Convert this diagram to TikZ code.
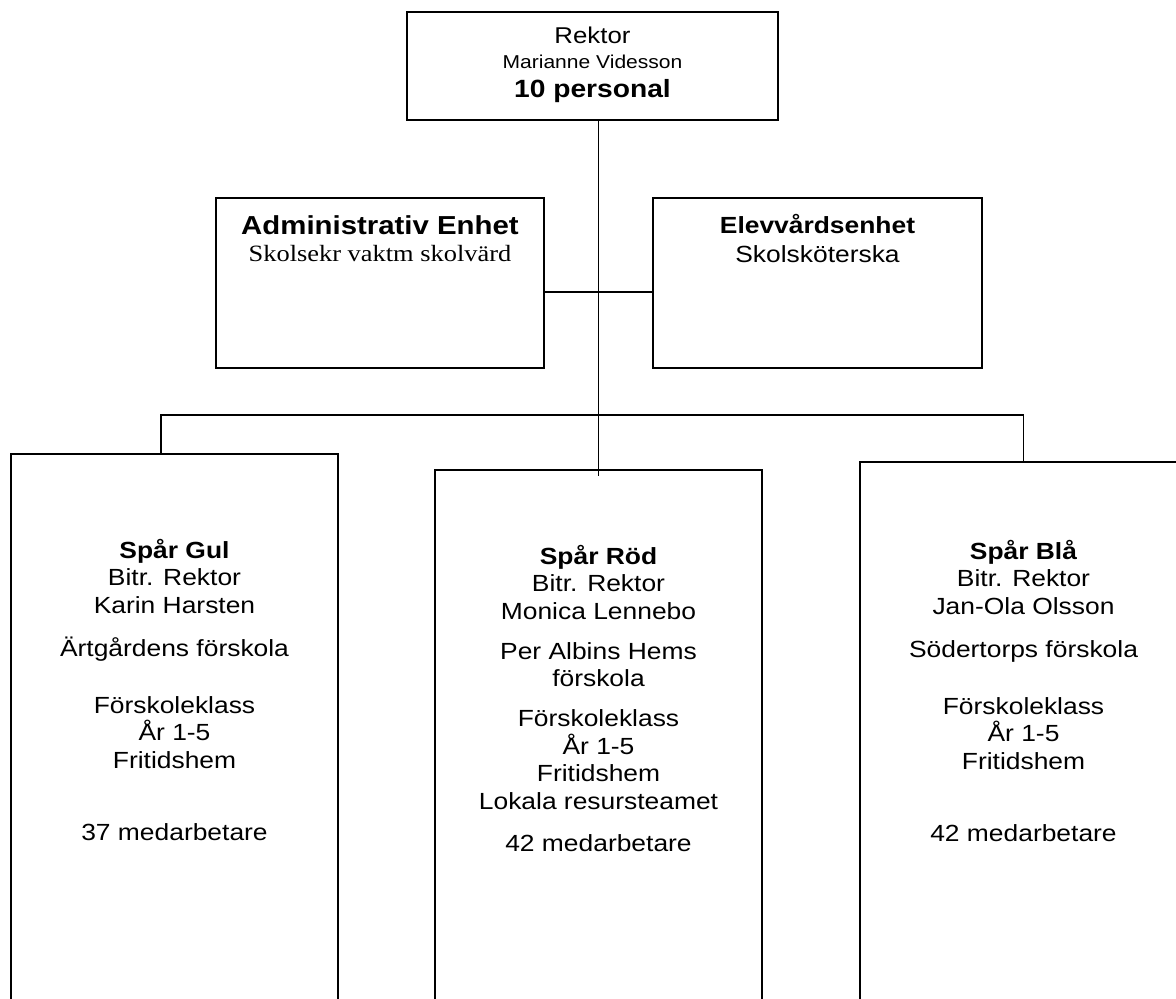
\documentclass[tikz,border=0pt]{standalone}
\usepackage{fontspec}
\setmainfont{Liberation Sans}[FakeStretch=1.13]
\newfontfamily\serifnormal{Liberation Serif}[FakeStretch=1.13]
\usetikzlibrary{positioning}

\tikzset{
    unit/.style={draw, rectangle, inner sep=0pt},
    info/.style={align=center, inner sep=0pt, anchor=base, font=\fontsize{13.3}{15.7}\selectfont},
}

\begin{document}
\begin{tikzpicture}[x=0.02cm, y=-0.02cm, line width=1.1pt]
    \useasboundingbox (0,0) rectangle (1176,998);
    % boxes
    \node[unit, minimum width=7.42cm, minimum height=2.16cm] (rektor) at (592.5,66) {};
    \node[unit, minimum width=6.56cm, minimum height=3.4cm] (admin) at (380,283) {};
    \node[unit, minimum width=6.58cm, minimum height=3.4cm] (elev) at (817.5,283) {};
    \node[unit, minimum width=6.54cm, minimum height=11.32cm] (gul) at (174.5,737) {};
    \node[unit, minimum width=6.54cm, minimum height=11cm] (rod) at (598.5,745) {};
    \node[unit, minimum width=6.54cm, minimum height=11.16cm] (bla) at (1023.5,741) {};
    % lines
    \coordinate (bus) at (598.5,415);
    \draw (rektor.south -| rod.north) -- ([yshift=-0.14cm]rod.north);
    \draw ([yshift=-0.18cm]admin.east) -- ([yshift=-0.18cm]elev.west);
    \draw ([xshift=-0.27cm]gul.north) |- (bus) -| (bla.north);
    % texts (anchored on the baseline of the last line)
    \node[info, font=\fontsize{13}{13.7}\selectfont] (rektortxt) at (592.5,97)
        {Rektor\\{\fontsize{10.6}{12}\selectfont Marianne Videsson}\\[2.8pt]{\bfseries\fontsize{14.2}{16}\selectfont 10 personal}};
    \node[info] (admintxt) at (380,261)
        {{\bfseries\fontsize{14.8}{17}\selectfont Administrativ Enhet}\\[-0.4pt]{\serifnormal Skolsekr vaktm skolvärd}};
    \node[info] (elevtxt) at (817.5,262)
        {\textbf{Elevvårdsenhet}\\[0.4pt]Skolsköterska};
    \node[info] (gultxt) at (174.5,840)
        {\textbf{Spår Gul}\\Bitr. Rektor\\Karin Harsten\\[9pt]Ärtgårdens förskola\\[16.5pt]Förskoleklass\\År 1-5\\Fritidshem\\[25pt]37 medarbetare};
    \node[info] (rodtxt) at (598.5,851)
        {\textbf{Spår Röd}\\Bitr. Rektor\\Monica Lennebo\\[7pt]Per Albins Hems\\förskola\\[7pt]Förskoleklass\\År 1-5\\Fritidshem\\Lokala resursteamet\\[8pt]42 medarbetare};
    \node[info] (blatxt) at (1023.5,841)
        {\textbf{Spår Blå}\\Bitr. Rektor\\Jan-Ola Olsson\\[9pt]Södertorps förskola\\[16.5pt]Förskoleklass\\År 1-5\\Fritidshem\\[25pt]42 medarbetare};
\end{tikzpicture}
\end{document}
